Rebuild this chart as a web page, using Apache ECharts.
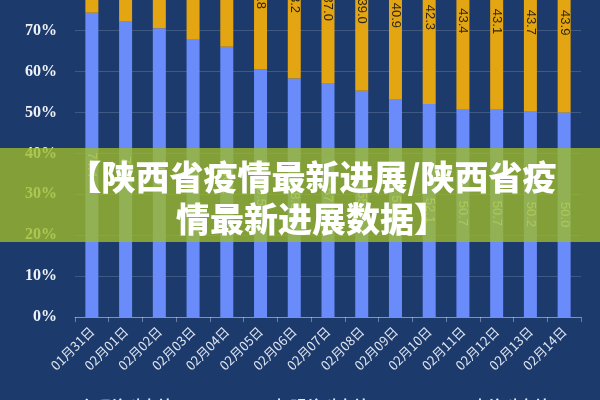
<!DOCTYPE html>
<html><head><meta charset="utf-8">
<script src="https://cdn.jsdelivr.net/npm/echarts@6/dist/echarts.min.js"></script>
<style>html,body{margin:0;padding:0;background:#1c3a6c;overflow:hidden;}#c{position:absolute;left:0;top:-100px;width:600px;height:500px;}</style>
</head><body><div id="c"></div>
<script>
const categories = ['01月31日','02月01日','02月02日','02月03日','02月04日','02月05日','02月06日','02月07日','02月08日','02月09日','02月10日','02月11日','02月12日','02月13日','02月14日'];
const blueValues = [74.4,72.2,70.6,67.8,66.1,60.5,58.3,57.0,55.3,53.3,52.1,50.7,50.7,50.2,50.0];
const goldValues = [21.0,23.0,25.2,28.0,30.0,35.8,38.2,37.0,39.0,40.9,42.3,43.4,43.1,43.7,43.9];
const seriesNames = ['全程接种占比','加强接种占比','未接种占比'];
const yTicks = {min:0, max:100, interval:10};
const titleLines = ['【陕西省疫情最新进展/陕西省疫','情最新进展数据】'];

const chart = echarts.init(document.getElementById('c'));
chart.setOption({
  backgroundColor:'#1c3a6c',
  animation:false,
  legend:{top:495,left:'center',itemGap:70,textStyle:{color:'#e6ebf3',fontSize:16,fontWeight:'bold'},data:seriesNames},
  grid:{left:75,right:19,top:0,bottom:83},
  xAxis:{type:'category',data:categories,
    axisLine:{lineStyle:{color:'rgba(255,255,255,0.35)'}},
    axisTick:{show:true,lineStyle:{color:'rgba(255,255,255,0.35)'}},
    axisLabel:{rotate:45,color:'#dfe5ef',fontSize:13,margin:12,fontFamily:'Noto Sans CJK SC'}},
  yAxis:{type:'value',min:yTicks.min,max:yTicks.max,interval:yTicks.interval,
    axisLine:{show:false},axisTick:{show:false},
    splitLine:{lineStyle:{color:'rgba(255,255,255,0.16)'}},
    axisLabel:{formatter:'{value}%',color:'#eef1f6',fontSize:16,fontWeight:'bold',fontFamily:'Liberation Serif',margin:18}},
  series:[
    {name:seriesNames[0],type:'bar',stack:'a',data:blueValues,barWidth:13,
     itemStyle:{color:'#6a8cfb'},
     label:{show:true,position:'inside',rotate:-90,color:'#f4f6fa',textBorderWidth:0,fontSize:13,formatter:p=>p.value.toFixed(1)}},
    {name:seriesNames[1],type:'bar',stack:'a',data:goldValues,barWidth:13,
     itemStyle:{color:'#e4a512'},
     label:{show:true,position:'inside',rotate:-90,color:'#2e2610',textBorderWidth:0,fontSize:13,formatter:p=>p.value.toFixed(1)}},
    {name:seriesNames[2],type:'line',data:[],itemStyle:{color:'#9fb7e6'}}
  ],
  graphic:[
    {type:'rect',left:0,top:248,shape:{width:600,height:94},style:{fill:'rgba(156,186,42,0.8)'},z:100},
    {type:'text',x:312,y:256,z:101,style:{text:titleLines.join('\n'),fill:'#ffffff',font:'900 34px "Noto Sans CJK SC"',textAlign:'center',lineHeight:42}}
  ]
});
</script></body></html>
